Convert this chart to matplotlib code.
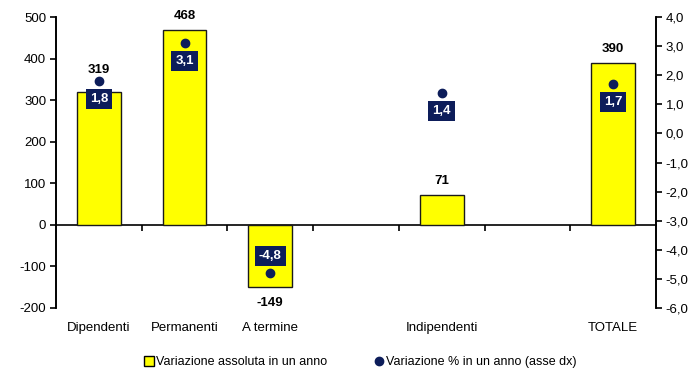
import matplotlib

matplotlib.use("Agg")
import matplotlib.pyplot as plt
import numpy as np
from matplotlib.lines import Line2D

plt.rcParams["font.family"] = ["Liberation Sans", "DejaVu Sans"]
plt.rcParams["axes.unicode_minus"] = False

categories = ["Dipendenti", "Permanenti", "A termine", "", "Indipendenti", "", "TOTALE"]
abs_change = [319, 468, -149, None, 71, None, 390]
pct_change = [1.8, 3.1, -4.8, None, 1.4, None, 1.7]
# extra lift (px) for bar labels that would hit the dot
label_lift = [8, 0, 0, 0, 0, 0, 0]

YELLOW = "#FFFF00"
NAVY = "#0D1D5A"

fig = plt.figure(figsize=(7, 3.74), dpi=100)
ax = fig.add_axes([0.08, 0.1765, 0.857, 0.778])
ax2 = ax.twinx()

x = np.arange(len(categories))
ymin, ymax = -200, 500
ax.set_ylim(ymin, ymax)
ax.set_xlim(-0.5, len(categories) - 0.5)
ax2.set_ylim(-6, 4)

for xi, v, lift in zip(x, abs_change, label_lift):
    if v is None:
        continue
    ax.bar(xi, v, width=0.51, color=YELLOW, edgecolor="#1a1a1a", linewidth=1.0, zorder=2)
    off = 10 + lift * 0.72 if v >= 0 else -12
    ax.annotate(f"{v}", (xi, v), xytext=(0, off), textcoords="offset points",
                ha="center", va="center", fontsize=9.5, fontweight="bold", color="black")

for xi, p in zip(x, pct_change):
    if p is None:
        continue
    ax2.plot(xi, p, "o", color=NAVY, markersize=6, zorder=5)
    off = -13 if p >= 0 else 12
    ax2.annotate(f"{p:.1f}".replace(".", ","), (xi, p), xytext=(0, off),
                 textcoords="offset points", ha="center", va="center",
                 fontsize=9.5, fontweight="bold", color="white", zorder=6,
                 bbox=dict(boxstyle="square,pad=0.3", facecolor=NAVY, edgecolor="none"))

# category labels at the bottom, no tick marks
ax.set_xticks(x)
ax.set_xticklabels(categories)
ax.tick_params(axis="x", length=0, pad=10, labelsize=9.5)

# zero line with boundary ticks
zero_pos = (0 - ymin) / (ymax - ymin)
sec = ax.secondary_xaxis(zero_pos)
sec.set_xticks(np.arange(0.5, len(categories) - 1))
sec.set_xticklabels([])
sec.tick_params(axis="x", length=4, width=1.2, direction="out")
sec.spines["bottom"].set_linewidth(1.2)

ax.set_yticks(np.arange(-200, 501, 100))
ax.tick_params(axis="y", length=4, width=1.2, labelsize=9.5, pad=3)
ax2.set_yticks(np.arange(-6, 4.1, 1))
ax2.set_yticklabels([f"{t:.1f}".replace(".", ",") for t in np.arange(-6, 4.1, 1)])
ax2.tick_params(axis="y", length=4, width=1.2, labelsize=9.5, pad=3)

for a in (ax, ax2):
    a.spines["top"].set_visible(False)
    a.spines["bottom"].set_visible(False)
    a.spines["left"].set_linewidth(1.2)
    a.spines["right"].set_linewidth(1.2)

handles = [
    Line2D([], [], marker="s", linestyle="none", markerfacecolor=YELLOW,
           markeredgecolor="black", markersize=7),
    Line2D([], [], marker="o", linestyle="none", color=NAVY, markersize=6),
]
fig.legend(handles, ["Variazione assoluta in un anno", "Variazione % in un anno (asse dx)"],
           loc="center", bbox_to_anchor=(0.515, 0.032), ncol=2, frameon=False,
           fontsize=9, handlelength=0.7, handletextpad=0.2, columnspacing=3.8)

fig.savefig("out.png", dpi=100, facecolor="white")
